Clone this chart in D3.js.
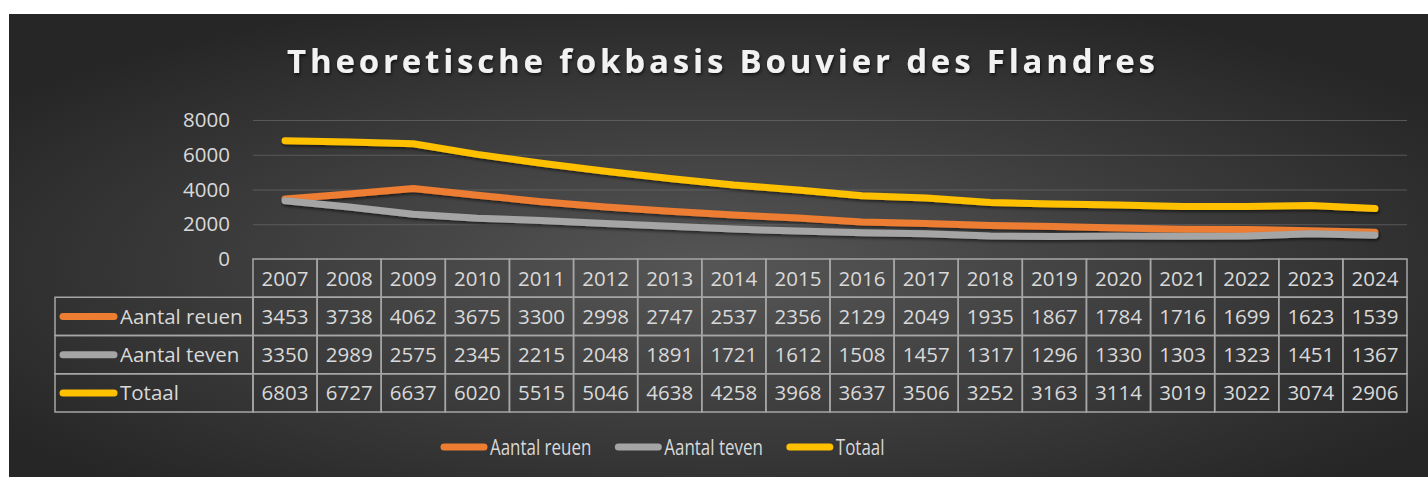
<!DOCTYPE html>
<html>
<head>
<meta charset="utf-8">
<script src="https://cdn.jsdelivr.net/npm/d3@7"></script>
<style>
  html, body { margin: 0; padding: 0; background: #ffffff; }
  svg { display: block; }
</style>
</head>
<body>
<div id="chart"></div>
<script>
// Data
var years = ["2007", "2008", "2009", "2010", "2011", "2012", "2013", "2014", "2015",
             "2016", "2017", "2018", "2019", "2020", "2021", "2022", "2023", "2024"];
var reuen = [3453, 3738, 4062, 3675, 3300, 2998, 2747, 2537, 2356, 2129, 2049, 1935, 1867, 1784, 1716, 1699, 1623, 1539];
var teven = [3350, 2989, 2575, 2345, 2215, 2048, 1891, 1721, 1612, 1508, 1457, 1317, 1296, 1330, 1303, 1323, 1451, 1367];
var totaal = [6803, 6727, 6637, 6020, 5515, 5046, 4638, 4258, 3968, 3637, 3506, 3252, 3163, 3114, 3019, 3022, 3074, 2906];
var seriesNames = ["Aantal reuen", "Aantal teven", "Totaal"];
var yTicks = [0, 2000, 4000, 6000, 8000];
var title = "Theoretische fokbasis Bouvier des Flandres";

var series = [
    { name: seriesNames[0], values: reuen, color: "#ED7D31" },
    { name: seriesNames[1], values: teven, color: "#A5A5A5" },
    { name: seriesNames[2], values: totaal, color: "#FFC000" }
];

var W = 1428, H = 477;
var font = "'Open Sans', Lato, sans-serif";
var textColor = "#d9d9d9";

var svg = d3.select("#chart").append("svg")
    .attr("width", W)
    .attr("height", H);

var defs = svg.append("defs");
var grad = defs.append("radialGradient")
    .attr("id", "bg")
    .attr("cx", "50%").attr("cy", "55%").attr("r", "62%");
grad.append("stop").attr("offset", "0%").attr("stop-color", "#565656");
grad.append("stop").attr("offset", "100%").attr("stop-color", "#262626");

var shadow = defs.append("filter").attr("id", "shadow")
    .attr("x", "-5%").attr("y", "-50%").attr("width", "110%").attr("height", "200%");
shadow.append("feDropShadow")
    .attr("dx", 1).attr("dy", 2).attr("stdDeviation", 1.8)
    .attr("flood-color", "#000").attr("flood-opacity", 0.55);

var tshadow = defs.append("filter").attr("id", "tshadow")
    .attr("x", "-5%").attr("y", "-30%").attr("width", "110%").attr("height", "160%");
tshadow.append("feDropShadow")
    .attr("dx", 1).attr("dy", 2).attr("stdDeviation", 1.5)
    .attr("flood-color", "#000").attr("flood-opacity", 0.6);

// Background panel
svg.append("rect")
    .attr("x", 9).attr("y", 14)
    .attr("width", W - 9).attr("height", H - 14)
    .attr("fill", "url(#bg)");

// Title
svg.append("text")
    .attr("x", 287).attr("y", 73)
    .attr("textLength", 868)
    .attr("lengthAdjust", "spacing")
    .attr("font-family", font)
    .attr("font-weight", "bold")
    .attr("font-size", 33)
    .attr("fill", "#f2f2f2")
    .attr("filter", "url(#tshadow)")
    .text(title);

// Scales
var plotLeft = 253, plotRight = 1407;
var x = d3.scaleBand().domain(years).range([plotLeft, plotRight]);
var y = d3.scaleLinear().domain([0, 8000]).range([259, 120]);

// Grid lines
var grid = d3.axisLeft(y).tickValues(yTicks).tickSize(-(plotRight - plotLeft)).tickFormat("");
svg.append("g")
    .attr("class", "grid")
    .attr("transform", "translate(" + plotLeft + ",0)")
    .call(grid)
    .call(function (g) { g.select(".domain").remove(); })
    .call(function (g) {
        g.selectAll(".tick line")
            .attr("stroke", "#6a6a6a")
            .attr("stroke-opacity", function (d) { return d === 0 ? 0 : 0.7; })
            .attr("stroke-width", 1.2);
    });

// Y axis labels
var yAxis = d3.axisLeft(y).tickValues(yTicks).tickSize(0).tickPadding(0).tickFormat(d3.format("d"));
svg.append("g")
    .attr("transform", "translate(230,0)")
    .call(yAxis)
    .call(function (g) { g.select(".domain").remove(); })
    .call(function (g) {
        g.selectAll(".tick text")
            .attr("font-family", font)
            .attr("font-size", 20.5)
            .attr("fill", textColor);
    });

// Lines
var line = d3.line()
    .x(function (d, i) { return x(years[i]) + x.bandwidth() / 2; })
    .y(function (d) { return y(d); });

svg.append("g").selectAll("path")
    .data(series)
    .enter().append("path")
    .attr("d", function (d) { return line(d.values); })
    .attr("fill", "none")
    .attr("stroke", function (d) { return d.color; })
    .attr("stroke-width", 7)
    .attr("stroke-linecap", "round")
    .attr("stroke-linejoin", "round")
    .attr("filter", "url(#shadow)");

// Data table
var rows = d3.scaleBand().domain(["header"].concat(seriesNames)).range([259, 412]);
var table = svg.append("g");
var borderColor = "#a6a6a6";

function cellText(tx, ty, str, anchor) {
    table.append("text")
        .attr("x", tx).attr("y", ty)
        .attr("dy", "0.36em")
        .attr("text-anchor", anchor)
        .attr("font-family", font).attr("font-size", 20.5)
        .attr("fill", textColor)
        .text(str);
}

function cell(cx, cy, w) {
    table.append("rect")
        .attr("x", cx).attr("y", cy)
        .attr("width", w).attr("height", rows.bandwidth())
        .attr("fill", "none").attr("stroke", borderColor).attr("stroke-width", 1.5);
}

// header cells
years.forEach(function (yr) {
    cell(x(yr), rows("header"), x.bandwidth());
    cellText(x(yr) + x.bandwidth() / 2, rows("header") + rows.bandwidth() / 2, yr, "middle");
});

series.forEach(function (s) {
    var ry = rows(s.name);
    cell(55, ry, plotLeft - 55);
    table.append("line")
        .attr("x1", 63).attr("x2", 114)
        .attr("y1", ry + rows.bandwidth() / 2).attr("y2", ry + rows.bandwidth() / 2)
        .attr("stroke", s.color).attr("stroke-width", 7).attr("stroke-linecap", "round");
    cellText(120, ry + rows.bandwidth() / 2, s.name, "start");
    s.values.forEach(function (v, i) {
        cell(x(years[i]), ry, x.bandwidth());
        cellText(x(years[i]) + x.bandwidth() / 2, ry + rows.bandwidth() / 2, v, "middle");
    });
});

// Bottom legend (text is horizontally condensed in the original)
var squeeze = 0.77;
var legend = svg.append("g").attr("transform", "translate(441,447)");
var lx = 0;
series.forEach(function (s) {
    var item = legend.append("g").attr("transform", "translate(" + lx + ",0)");
    item.append("line")
        .attr("x1", 3).attr("x2", 43)
        .attr("y1", 0).attr("y2", 0)
        .attr("stroke", s.color).attr("stroke-width", 7).attr("stroke-linecap", "round");
    var t = item.append("text")
        .attr("transform", "translate(49,0) scale(" + squeeze + ",1)")
        .attr("dy", "0.36em")
        .attr("font-family", font).attr("font-size", 22)
        .attr("fill", textColor)
        .text(s.name);
    lx += 49 + t.node().getComputedTextLength() * squeeze + 24;
});
</script>
</body>
</html>
